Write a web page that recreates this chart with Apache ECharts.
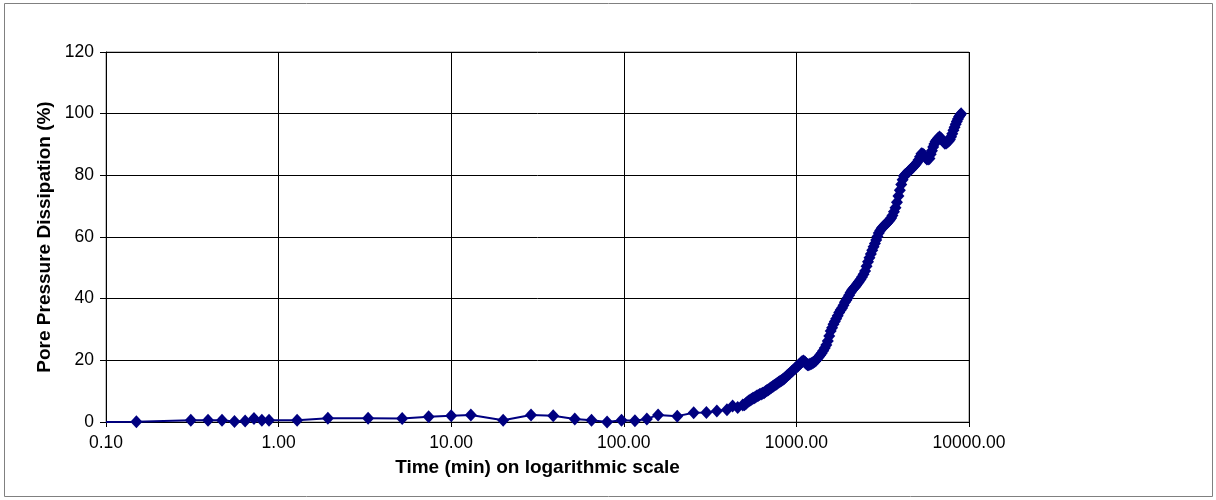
<!DOCTYPE html>
<html>
<head>
<meta charset="utf-8">
<script src="https://cdn.jsdelivr.net/npm/echarts@6/dist/echarts.min.js"></script>
<style>
html,body{margin:0;padding:0;background:#fff;}
#chart{width:1216px;height:500px;}
</style>
</head>
<body>
<div id="chart"></div>
<script>
// Time (min)
const times = [
  0.1, 0.15, 0.31, 0.39, 0.47, 0.555, 0.64, 0.72, 0.80, 0.88, 1.28, 1.93, 3.3, 5.2, 7.4, 10, 13, 20, 29, 39, 52, 65, 80, 97, 116, 136, 158, 204, 254, 301, 346, 396, 427, 457, 489,
  500, 510, 520, 530, 540, 550, 560, 570, 580, 590, 600, 612, 625, 637, 650, 662, 675, 687, 700, 715, 730, 745, 760, 775, 790, 805, 820, 835, 850, 865, 880, 900, 920, 940, 960, 980,
  1000, 1020, 1040, 1060, 1080, 1100, 1120, 1140, 1160, 1180, 1200, 1225, 1250, 1275, 1300, 1325, 1350, 1375, 1400, 1430, 1460, 1490, 1520, 1550, 1580, 1610, 1640, 1670, 1700, 1735, 1770, 1805, 1840, 1875, 1910, 1945, 1980,
  2020, 2060, 2100, 2140, 2180, 2220, 2260, 2300, 2350, 2400, 2450, 2500, 2550, 2600, 2650, 2700, 2750, 2800, 2850, 2900, 2950, 3000,
  3060, 3120, 3180, 3240, 3300, 3360, 3420, 3480, 3540, 3600, 3675, 3750, 3825, 3900, 3975, 4050, 4125, 4200, 4275, 4350, 4425, 4500,
  4600, 4700, 4800, 4900, 5000, 5100, 5200, 5300, 5400, 5500, 5600, 5700, 5800, 5900, 6000, 6100, 6200, 6300, 6400, 6500,
  6625, 6750, 6875, 7000, 7125, 7250, 7375, 7500, 7625, 7750, 7875, 8000, 8125, 8250, 8375, 8500, 8625, 8750, 8875, 9000
];
// Pore pressure dissipation (%)
const dissipation = [
  0.0, 0.1, 0.6, 0.6, 0.6, 0.2, 0.3, 1.1, 0.6, 0.6, 0.6, 1.2, 1.2, 1.1, 1.7, 2.0, 2.3, 0.6, 2.3, 2.0, 1.0, 0.6, 0.0, 0.6, 0.4, 1.0, 2.3, 1.9, 3.0, 3.1, 3.6, 4.0, 5.2, 4.7, 5.5,
  5.6, 6.0, 6.5, 6.8, 7.1, 7.4, 7.7, 7.9, 8.1, 8.4, 8.6, 8.9, 9.1, 9.3, 9.5, 9.9, 10.2, 10.5, 10.8, 11.2, 11.5, 11.9, 12.2, 12.6, 12.9, 13.2, 13.5, 13.8, 14.1, 14.5, 14.9, 15.4, 15.9, 16.4, 16.9, 17.3,
  17.8, 18.2, 18.7, 19.1, 19.6, 19.8, 19.5, 19.0, 18.6, 18.6, 18.8, 19.0, 19.3, 19.6, 20.0, 20.6, 21.2, 21.7, 22.3, 23.1, 24.0, 25.0, 26.3, 27.9, 29.5, 30.6, 31.7, 32.6, 33.5, 34.5, 35.5, 36.3, 37.0, 37.9, 38.8, 39.5, 40.2,
  41.1, 42.0, 42.7, 43.3, 43.8, 44.3, 44.9, 45.5, 46.2, 47.0, 47.9, 49.0, 50.5, 52.0, 53.3, 54.5, 55.7, 56.8, 57.9, 59.0, 60.2, 61.3,
  62.1, 62.8, 63.3, 63.8, 64.2, 64.6, 65.1, 65.6, 66.2, 67.0, 68.2, 69.5, 71.3, 73.3, 75.2, 77.0, 78.6, 79.8, 80.3, 80.6, 81.0, 81.4,
  82.0, 82.5, 83.0, 83.5, 84.2, 85.0, 86.0, 87.0, 86.9, 86.5, 85.8, 85.3, 85.3, 85.5, 86.8, 88.0, 89.2, 90.2, 91.0, 91.5,
  92.0, 92.4, 92.0, 91.5, 90.9, 90.4, 90.5, 90.8, 91.1, 91.6, 92.5, 93.5, 94.6, 95.6, 96.6, 97.5, 98.3, 99.0, 99.5, 100.0
];
const yTicks = [0, 20, 40, 60, 80, 100, 120];
const xTitle = 'Time (min) on logarithmic scale';
const yTitle = 'Pore Pressure Dissipation (%)';

const seriesData = times.map((t, i) => {
  const item = { value: [t, dissipation[i]] };
  if (i === 0) item.symbol = 'none';
  return item;
});

const chart = echarts.init(document.getElementById('chart'), null, { renderer: 'canvas' });
const FONT = '"Liberation Sans", Arial, sans-serif';
chart.setOption({
  animation: false,
  backgroundColor: '#fff',
  graphic: [{
    type: 'rect',
    shape: { x: 4.5, y: 3.5, width: 1208, height: 493 },
    style: { fill: 'none', stroke: '#808080', lineWidth: 1 },
    silent: true
  }],
  grid: {
    left: 106, right: 247, top: 52, bottom: 78,
    show: true, borderColor: '#808080', borderWidth: 1, backgroundColor: '#fff'
  },
  xAxis: {
    type: 'log', logBase: 10, min: 0.1, max: 10000,
    name: xTitle, nameLocation: 'middle', nameGap: 36,
    nameTextStyle: { fontFamily: FONT, fontSize: 19, fontWeight: 'bold', color: '#000' },
    axisLine: { show: true, lineStyle: { color: '#000', width: 1 } },
    axisTick: { show: true, inside: false, length: 5, lineStyle: { color: '#000' } },
    minorTick: { show: false },
    axisLabel: {
      fontFamily: FONT, fontSize: 17.5, color: '#000', margin: 12,
      formatter: v => Number(v).toFixed(2)
    },
    splitLine: { show: true, lineStyle: { color: '#000', width: 1 } }
  },
  yAxis: {
    type: 'value', min: yTicks[0], max: yTicks[yTicks.length - 1], interval: 20,
    name: yTitle, nameLocation: 'middle', nameGap: 44,
    nameTextStyle: { fontFamily: FONT, fontSize: 19, fontWeight: 'bold', color: '#000' },
    axisLine: { show: true, lineStyle: { color: '#000', width: 1 } },
    axisTick: { show: true, inside: false, length: 6, lineStyle: { color: '#000' } },
    axisLabel: { fontFamily: FONT, fontSize: 17.5, color: '#000', margin: 12 },
    splitLine: { show: true, lineStyle: { color: '#000', width: 1 } }
  },
  series: [{
    type: 'line',
    data: seriesData,
    symbol: 'diamond',
    symbolSize: [12, 13],
    showAllSymbol: true,
    itemStyle: { color: '#000080' },
    lineStyle: { color: '#000080', width: 2 },
    clip: false
  }]
});
</script>
</body>
</html>
